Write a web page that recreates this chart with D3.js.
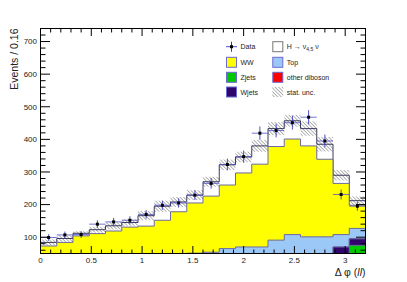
<!DOCTYPE html>
<html>
<head>
<meta charset="utf-8">
<script src="https://cdn.jsdelivr.net/npm/d3@7"></script>
<style>
  body { margin: 0; background: #fff; }
  svg { display: block; font-family: "Liberation Sans", Arial, sans-serif; }
</style>
</head>
<body>
<div id="chart"></div>
<script>
// bins of 0.16 in delta phi
const binWidth = 0.16;
const nBins = 20;

// stacked backgrounds per bin (events)
const zjets   = [1, 1, 1, 1, 1, 1, 1, 2, 2, 2, 2, 3, 3, 4, 5, 6, 8, 12, 35, 75];
const wjets   = [2, 2, 2, 2, 3, 3, 3, 3, 4, 4, 4, 5, 5, 6, 7, 8, 10, 14, 35, 20];
const diboson = [1, 1, 1, 1, 1, 1, 1, 1, 1, 2, 2, 2, 2, 2, 3, 3, 3, 3, 0, 0];
const topBkg  = [16, 18, 20, 22, 23, 25, 28, 30, 33, 43, 46, 55, 60, 58, 76, 91, 80, 72, 38, 32];
const ww      = [53, 62, 80, 85, 91, 101, 101, 116, 138, 154, 172, 195, 227, 254, 287, 293, 279, 238, 157, 71];
const higgs   = [11, 12, 8, 12, 16, 14, 32, 43, 30, 24, 44, 62, 49, 56, 55, 56, 53, 46, 25, 14];
const statUnc = [9, 10, 6, 9, 11, 10, 14, 17, 15, 15, 15, 16, 16, 18, 20, 18, 22, 22, 16, 13];
const dataPts = [99, 107, 108, 140, 147, 152, 170, 198, 205, 229, 265, 323, 347, 419, 427, 451, 468, 395, 231, 195];

const xMajor = [0, 0.5, 1, 1.5, 2, 2.5, 3];
const yMajor = [100, 200, 300, 400, 500, 600, 700];

const W = 407, H = 282;
const margin = { top: 28.5, right: 41.5, bottom: 28.5, left: 40.5 };

const svg = d3.select("#chart").append("svg")
  .attr("width", W).attr("height", H);

const x = d3.scaleLinear().domain([0, binWidth * nBins]).range([margin.left, W - margin.right]);
const y = d3.scaleLinear().domain([50, 740]).range([H - margin.bottom, margin.top]);

const defs = svg.append("defs");
defs.append("clipPath").attr("id", "plotclip")
  .append("rect")
  .attr("x", x.range()[0]).attr("y", y.range()[1])
  .attr("width", x.range()[1] - x.range()[0])
  .attr("height", y.range()[0] - y.range()[1]);

const hatch = defs.append("pattern").attr("id", "hatch")
  .attr("patternUnits", "userSpaceOnUse")
  .attr("width", 2.5).attr("height", 4)
  .attr("patternTransform", "rotate(-45)");
hatch.append("line").attr("x1", 0).attr("y1", 0).attr("x2", 0).attr("y2", 4)
  .attr("stroke", "#333").attr("stroke-width", 0.8);

// build cumulative stack, bottom first
const components = [
  { name: "Zjets", vals: zjets, fill: "#00c800" },
  { name: "Wjets", vals: wjets, fill: "#30066c" },
  { name: "other diboson", vals: diboson, fill: "#ff0000" },
  { name: "Top", vals: topBkg, fill: "#9cc8f8" },
  { name: "WW", vals: ww, fill: "#ffff00" },
  { name: "H", vals: higgs, fill: "#ffffff" }
];
let running = d3.range(nBins).map(() => 0);
components.forEach(c => {
  running = running.map((r, i) => r + c.vals[i]);
  c.cum = running.slice();
});
const total = running;

const plot = svg.append("g").attr("clip-path", "url(#plotclip)");

function stepPoints(vals) {
  const pts = vals.map((v, i) => ({ e: i * binWidth, v }));
  pts.push({ e: nBins * binWidth, v: vals[nBins - 1] });
  return pts;
}
const area = d3.area().curve(d3.curveStepAfter)
  .x(d => x(d.e)).y0(y.range()[0] + 5).y1(d => y(d.v));
const line = d3.line().curve(d3.curveStepAfter)
  .x(d => x(d.e)).y(d => y(d.v));

// draw from top of stack down so lower ones overlay
components.slice().reverse().forEach(c => {
  const pts = stepPoints(c.cum);
  plot.append("path").attr("d", area(pts)).attr("fill", c.fill);
  plot.append("path").attr("d", line(pts))
    .attr("fill", "none")
    .attr("stroke", c.name === "H" ? "#3c3c64" : "#6a6aa0")
    .attr("stroke-width", 1);
});

// stat. unc. band
plot.selectAll("rect.unc").data(total).enter().append("rect")
  .attr("x", (d, i) => x(i * binWidth))
  .attr("width", x(binWidth) - x(0))
  .attr("y", (d, i) => y(d + statUnc[i]))
  .attr("height", (d, i) => y(d - statUnc[i]) - y(d + statUnc[i]))
  .attr("fill", "url(#hatch)");

// data points
const dataG = plot.append("g");
dataPts.forEach((v, i) => {
  const cx = x((i + 0.5) * binWidth);
  const err = Math.sqrt(v);
  dataG.append("line")
    .attr("x1", x(i * binWidth)).attr("x2", x((i + 1) * binWidth))
    .attr("y1", y(v)).attr("y2", y(v))
    .attr("stroke", "#5050d0").attr("stroke-opacity", 0.8).attr("stroke-width", 1);
  dataG.append("line")
    .attr("x1", cx).attr("x2", cx)
    .attr("y1", y(v - err)).attr("y2", y(v + err))
    .attr("stroke", "#3030c0").attr("stroke-opacity", 0.85).attr("stroke-width", 1);
  dataG.append("rect")
    .attr("x", cx - 1.5).attr("y", y(v) - 1.5)
    .attr("width", 3).attr("height", 3).attr("fill", "#000");
});

// frame and ticks
const x0 = x.range()[0], x1 = x.range()[1], yb = y.range()[0], yt = y.range()[1];
svg.append("rect").attr("x", x0).attr("y", yt)
  .attr("width", x1 - x0).attr("height", yb - yt)
  .attr("fill", "none").attr("stroke", "#000").attr("stroke-width", 1);

const ticks = svg.append("g").attr("stroke", "#000").attr("stroke-width", 1);
const xMinor = d3.range(0, 33).map(k => k / 10).filter(v => !xMajor.includes(v));
const yMinor = d3.range(60, 741, 20).filter(v => !yMajor.includes(v));

[[xMajor, 7.5], [xMinor, 4]].forEach(([vals, len]) => {
  vals.forEach(v => {
    ticks.append("line").attr("x1", x(v)).attr("x2", x(v)).attr("y1", yb).attr("y2", yb - len);
    ticks.append("line").attr("x1", x(v)).attr("x2", x(v)).attr("y1", yt).attr("y2", yt + len);
  });
});
[[yMajor, 9.5], [yMinor, 5]].forEach(([vals, len]) => {
  vals.forEach(v => {
    ticks.append("line").attr("x1", x0).attr("x2", x0 + len).attr("y1", y(v)).attr("y2", y(v));
    ticks.append("line").attr("x1", x1).attr("x2", x1 - len).attr("y1", y(v)).attr("y2", y(v));
  });
});

// tick labels
svg.selectAll("text.xl").data(xMajor).enter().append("text")
  .attr("x", d => x(d)).attr("y", yb + 9.5)
  .attr("text-anchor", "middle").attr("font-size", 8).attr("fill", "#222")
  .text(d => d3.format("")(d));
svg.selectAll("text.yl").data(yMajor).enter().append("text")
  .attr("x", x0 - 3.5).attr("y", d => y(d) + 2.9)
  .attr("text-anchor", "end").attr("font-size", 8).attr("fill", "#222")
  .text(d => d);

// axis titles
svg.append("text")
  .attr("transform", `translate(17.5,${yt}) rotate(-90)`)
  .attr("text-anchor", "end").attr("font-size", 10.5).attr("fill", "#222")
  .text("Events / 0.16");
const xt = svg.append("text")
  .attr("x", x1).attr("y", 275.5)
  .attr("text-anchor", "end").attr("font-size", 10.5).attr("fill", "#222");
xt.append("tspan").text("\u0394 \u03c6 (");
xt.append("tspan").attr("font-style", "italic").text("ll");
xt.append("tspan").text(")");

// legend
const leg = svg.append("g").attr("font-size", 7).attr("fill", "#222");
const rowY = [46.7, 62.3, 77.3, 92];
const colX = [226, 272.3];
const legendEntries = [
  { col: 0, row: 0, label: "Data", kind: "data" },
  { col: 0, row: 1, label: "WW", fill: "#ffff00" },
  { col: 0, row: 2, label: "Zjets", fill: "#00c800" },
  { col: 0, row: 3, label: "Wjets", fill: "#30066c" },
  { col: 1, row: 0, label: "H", kind: "higgs", fill: "#ffffff" },
  { col: 1, row: 1, label: "Top", fill: "#9cc8f8" },
  { col: 1, row: 2, label: "other diboson", fill: "#ff0000" },
  { col: 1, row: 3, label: "stat. unc.", kind: "hatch" }
];
legendEntries.forEach(e => {
  const bx = colX[e.col], cy = rowY[e.row];
  if (e.kind === "data") {
    leg.append("line").attr("x1", bx).attr("x2", bx + 11).attr("y1", cy).attr("y2", cy)
      .attr("stroke", "#5050d0").attr("stroke-width", 1);
    leg.append("line").attr("x1", bx + 5.5).attr("x2", bx + 5.5).attr("y1", cy - 5).attr("y2", cy + 5)
      .attr("stroke", "#3030c0").attr("stroke-width", 1);
    leg.append("rect").attr("x", bx + 4).attr("y", cy - 1.5).attr("width", 3).attr("height", 3).attr("fill", "#000");
  } else if (e.kind === "hatch") {
    leg.append("rect").attr("x", bx).attr("y", cy - 5).attr("width", 11).attr("height", 10)
      .attr("fill", "url(#hatch)");
  } else {
    leg.append("rect").attr("x", bx + 0.5).attr("y", cy - 5).attr("width", 10).attr("height", 10)
      .attr("fill", e.fill)
      .attr("stroke", e.kind === "higgs" ? "#777" : "#6a6ad0").attr("stroke-width", 1);
  }
  const t = leg.append("text").attr("x", bx + 14.5).attr("y", cy + 2.5);
  if (e.kind === "higgs") {
    t.append("tspan").text("H \u2192 \u03bd");
    t.append("tspan").attr("font-size", 5).attr("dy", 2).text("4,5");
    t.append("tspan").attr("dy", -2).text(" \u03bd");
  } else {
    t.text(e.label);
  }
});
</script>
</body>
</html>
